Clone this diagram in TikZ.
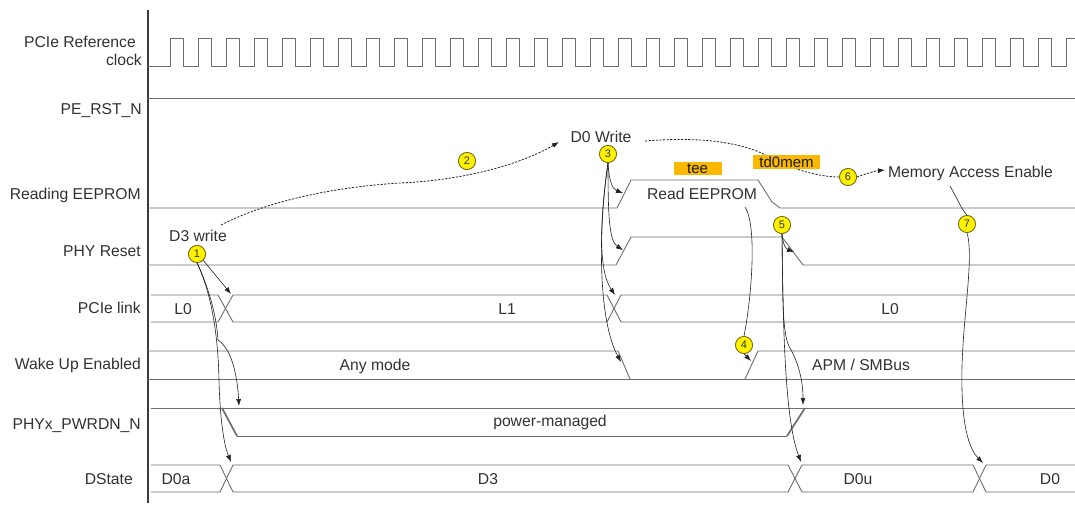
\documentclass[tikz,border=0pt]{standalone}
\usepackage{fontspec}
\setmainfont{Liberation Sans}
\usetikzlibrary{arrows.meta}
\definecolor{sig}{RGB}{110,110,110}
\definecolor{axiscol}{RGB}{60,60,60}
\definecolor{txt}{RGB}{50,50,50}
\definecolor{circfill}{RGB}{255,242,0}
\definecolor{circdraw}{RGB}{110,100,20}
\definecolor{tbox}{RGB}{250,185,0}
\definecolor{conncol}{RGB}{35,35,35}
\begin{document}
\begin{tikzpicture}[x=1pt,y=-1pt,
  sigline/.style={draw=sig, line width=0.9pt},
  axisline/.style={draw=axiscol, line width=1.1pt},
  edgeline/.style={draw=sig, line width=1.7pt},
  lbl/.style={anchor=base east, inner sep=0pt, text=txt, font=\fontsize{15.7}{18}\selectfont},
  val/.style={anchor=base, inner sep=0pt, text=txt, font=\fontsize{15.7}{18}\selectfont},
  num/.style={circle, fill=circfill, draw=circdraw, line width=0.7pt, minimum size=17pt, inner sep=0pt, font=\fontsize{11}{11}\selectfont, text=black!80},
  conn/.style={draw=conncol, line width=0.6pt, -{Latex[length=7pt,width=5pt]}},
  plainconn/.style={draw=conncol, line width=0.6pt},
  dconn/.style={conn, dash pattern=on 2.2pt off 1.4pt, line width=0.8pt},
  dplain/.style={plainconn, dash pattern=on 2.2pt off 1.4pt, line width=0.8pt},
  tbx/.style={fill=tbox, inner sep=0pt, text=black!90, font=\fontsize{15}{15}\selectfont}
]
\useasboundingbox (0,0) rectangle (1075,505);
\fill[white] (0,0) rectangle (1075,505);

% axis
\draw[axisline] (148,10) -- (148,503);

% clock
\draw[sigline] (148,66) -- (170,66) \foreach \i in {1,...,32} { -- ++(0,-28) -- ++(13.5,0) -- ++(0,28) -- ++(14.5,0) } -- ++(0,-28) -- (1075,38);
% PE_RST_N
\draw[sigline] (148,98) -- (1075,98);
% Reading EEPROM
\draw[sigline] (148,208) -- (617,208) -- (631,180) -- (758,180) -- (772,202) -- (780,208) -- (1075,208);
% PHY Reset
\draw[sigline] (148,265) -- (616,265) -- (631,237) -- (782,237) -- (803,265) -- (1075,265);
% PCIe link
\draw[sigline] (151,295) -- (218,295) -- (233,322) -- (607,322) -- (621,295) -- (1075,295);
\draw[sigline] (151,322) -- (218,322) -- (233,295) -- (607,295) -- (621,322) -- (1075,322);
% Wake Up Enabled
\draw[sigline] (148,351) -- (618,351) -- (630,379);
\draw[sigline] (148,379) -- (1075,379);
\draw[sigline] (745,379) -- (758,351) -- (1075,351);
% PHYx_PWRDN_N
\draw[sigline] (151,408) -- (1075,408);
\draw[sigline] (237,436) -- (787,436);
\draw[edgeline] (222,408) -- (237,436);
\draw[edgeline] (787,436) -- (805,408);
% DState
\draw[sigline] (151,465) -- (220,465) -- (233,492) -- (788,492) -- (802,465) -- (973,465) -- (986,492) -- (1075,492);
\draw[sigline] (151,492) -- (220,492) -- (233,465) -- (788,465) -- (802,492) -- (973,492) -- (986,465) -- (1075,465);

% row labels
\node[lbl] (lclkA) at (136,48) {PCIe Reference};
\node[lbl] (lclkB) at (142,66) {clock};
\node[lbl] (lrst) at (142,115) {PE\_RST\_N};
\node[lbl] (lee) at (141,199) {Reading EEPROM};
\node[lbl] (lphy) at (141,256.5) {PHY Reset};
\node[lbl] (llink) at (141,313) {PCIe link};
\node[lbl] (lwake) at (141,369.5) {Wake Up Enabled};
\node[lbl] (lpwr) at (141,429) {PHYx\_PWRDN\_N};
\node[lbl] (lds) at (133,484) {DState};

% values
\node[val] (vL0a) at (183,314) {L0};
\node[val] (vL1) at (507,314) {L1};
\node[val] (vL0b) at (890,314) {L0};
\node[val] (vany) at (375,370) {Any mode};
\node[val] (vapm) at (861,370) {APM / SMBus};
\node[val] (vpm) at (550,426) {power-managed};
\node[val] (vD0a) at (176,484) {D0a};
\node[val] (vD3) at (488,484) {D3};
\node[val] (vD0u) at (858,484) {D0u};
\node[val] (vD0) at (1050,484) {D0};
\node[val] (vrd) at (702,200) {Read EEPROM};

% annotations
\node[val] (d3w) at (198,241.5) {D3 write};
\node[val] (d0w) at (601,143) {D0 Write};
\node[val] (mae) at (970.5,178) {Memory Access Enable};

% circles (placed first so anchors exist)
\node[num] (c1) at (197,254) {1};
\node[num] (c2) at (467,161) {2};
\node[num] (c3) at (608,154) {3};
\node[num] (c4) at (744,345) {4};
\node[num] (c5) at (782,225) {5};
\node[num] (c6) at (848,177) {6};
\node[num] (c7) at (967,224) {7};

% coordinates
\coordinate (s2) at (221,225);
\coordinate (t2) at (559,142);
\coordinate (s6) at (645,141);
\coordinate (t6) at (885,170);
\coordinate (t1a) at (231,294);
\coordinate (t1b) at (239,406);
\coordinate (t1c) at (231,462);
\coordinate (t3a) at (623,193);
\coordinate (t3b) at (623,250);
\coordinate (t3c) at (615,295);
\coordinate (t3d) at (621,362);
\coordinate (s4) at (745,207);
\coordinate (t4) at (751,361);
\coordinate (t5a) at (794,252);
\coordinate (t5b) at (803,405);
\coordinate (t5c) at (801,462);
\coordinate (s7) at (950,186);
\coordinate (t7) at (983,463);

% dashed connectors
\draw[dconn] (s2) .. controls (260,205) and (320,188) .. (400,183) .. controls (470,180) and (525,162) .. (t2);
\draw[dplain] (s6) .. controls (720,135) and (755,148) .. (775,160) .. controls (795,170) and (820,177) .. (c6.west);
\draw[dconn] (c6.east) .. controls (866,174) and (874,171) .. (t6);

% solid connectors
\draw[conn] (c1.south east) -- (t1a);
\draw[conn] (c1.south) .. controls (210,290) and (217,320) .. (218,340) .. controls (230,348) and (237,370) .. (t1b);
\draw[conn] (c1.south) .. controls (210,290) and (218,330) .. (219,380) .. controls (220,420) and (224,445) .. (t1c);

\draw[conn] (c3.south) .. controls (609,180) and (612,189) .. (t3a);
\draw[conn] (c3.south) .. controls (608,215) and (609,241) .. (t3b);
\draw[conn] (c3.south) .. controls (600,220) and (598,270) .. (t3c);
\draw[conn] (c3.south) .. controls (598,230) and (598,320) .. (t3d);

\draw[plainconn] (s4) .. controls (757,225) and (752,295) .. (c4.north);
\draw[conn] (c4.south) -- (t4);

\draw[conn] (c5.south) .. controls (783,245) and (786,249) .. (t5a);
\draw[conn] (c5.south) .. controls (783,300) and (782,335) .. (790,348) .. controls (798,362) and (803,380) .. (t5b);
\draw[conn] (c5.south) .. controls (783,330) and (785,420) .. (t5c);

\draw[plainconn] (s7) .. controls (958,200) and (962,210) .. (c7.north);
\draw[conn] (c7.south) .. controls (975,260) and (960,330) .. (962,390) .. controls (963,430) and (970,450) .. (t7);

% redraw circles on top
\node[num] at (c1) {1};
\node[num] at (c2) {2};
\node[num] at (c3) {3};
\node[num] at (c4) {4};
\node[num] at (c5) {5};
\node[num] at (c6) {6};
\node[num] at (c7) {7};

% timing boxes
\node[tbx, minimum width=48pt, minimum height=13.5pt] (tee) at (697.5,168.5) {tee};
\node[tbx, minimum width=67pt, minimum height=14pt] (td0) at (786.5,162) {td0mem};
\end{tikzpicture}
\end{document}
